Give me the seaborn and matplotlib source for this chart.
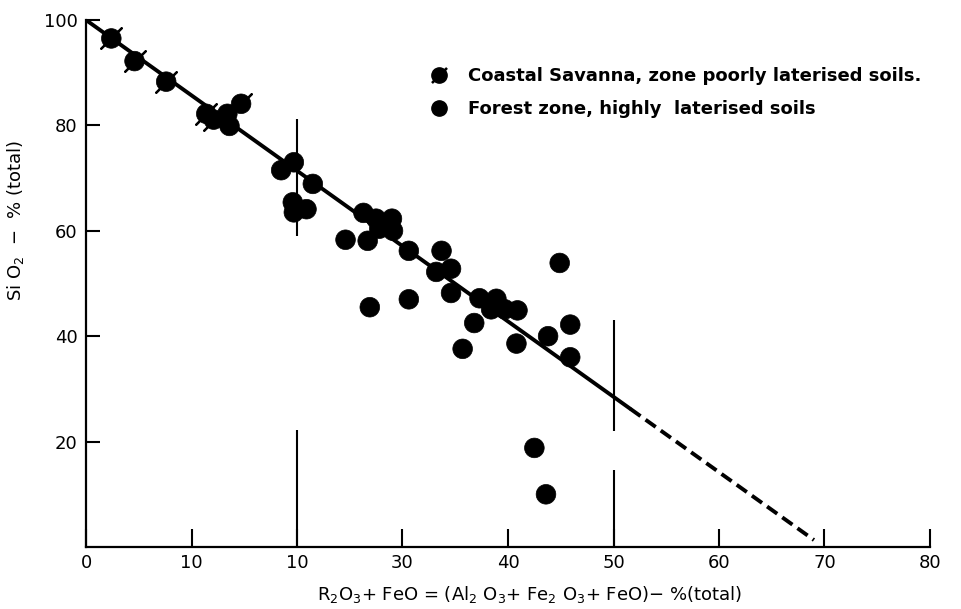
import matplotlib
matplotlib.use("Agg")
import matplotlib.pyplot as plt
import seaborn as sns
import pandas as pd
import numpy as np
from matplotlib.lines import Line2D
from matplotlib.legend_handler import HandlerTuple

# ---------------- data ----------------
coastal_x = [2.4, 4.6, 7.6, 11.4, 12.1, 14.7]
coastal_y = [96.5, 92.2, 88.3, 82.2, 81.1, 84.1]

forest_x = [13.4, 13.6, 18.5, 19.7, 21.5, 19.6, 19.7, 20.9, 26.3, 27.5, 29.0, 29.1,
            27.8, 26.7, 24.6, 30.6, 33.7, 33.2, 34.6, 34.6, 37.3, 38.9, 38.4, 39.7,
            40.9, 36.8, 26.9, 30.6, 44.9, 45.9, 43.8, 40.8, 35.7, 45.9, 42.5, 43.6]
forest_y = [82.2, 79.9, 71.5, 73.0, 68.9, 65.4, 63.5, 64.1, 63.4, 62.3, 62.3, 60.0,
            60.4, 58.1, 58.3, 56.2, 56.2, 52.2, 52.8, 48.2, 47.2, 47.1, 45.1, 45.1,
            44.9, 42.5, 45.5, 47.0, 53.9, 42.2, 40.0, 38.6, 37.6, 36.0, 18.8, 10.0]

series_labels = ["Coastal Savanna, zone poorly laterised soils.",
                 "Forest zone, highly  laterised soils"]

# trend line y = intercept + slope * x
trend_intercept = 100.0
trend_slope = -1.43
trend_solid_x = [0.0, 51.6]
trend_dashed_x = [51.6, 69.0]

# vertical guide segments (x, ymin, ymax)
guide_x = [20, 20, 50, 50]
guide_ymin = [59.1, 0.0, 22.0, 0.0]
guide_ymax = [81.3, 22.2, 43.0, 14.6]

x_ticks = [0, 10, 20, 30, 40, 50, 60, 70, 80]
x_ticklabels = ["0", "10", "10", "30", "40", "50", "60", "70", "80"]
y_ticks = [20, 40, 60, 80, 100]
y_ticklabels = ["20", "40", "60", "80", "100"]

x_label = r"R$_2$O$_3$+ FeO = (Al$_2$ O$_3$+ Fe$_2$ O$_3$+ FeO)$-$ %(total)"
y_label = r"Si O$_2$  $-$  % (total)"

# ---------------- figure ----------------
sns.set_theme(style="ticks")
plt.rcParams["font.family"] = ["DejaVu Sans"]
plt.rcParams["mathtext.default"] = "regular"
plt.rcParams["text.color"] = "black"
plt.rcParams["axes.labelcolor"] = "black"

fig = plt.figure(figsize=(9.62, 6.09), dpi=100)
ax = fig.add_axes([86 / 962, 1 - 547 / 609, (930 - 86) / 962, (547 - 20) / 609])

df = pd.DataFrame({
    "x": coastal_x + forest_x,
    "y": coastal_y + forest_y,
    "zone": [series_labels[0]] * len(coastal_x) + [series_labels[1]] * len(forest_x),
})

# trend line
sx = np.array(trend_solid_x)
dx = np.array(trend_dashed_x)
sns.lineplot(x=sx, y=trend_intercept + trend_slope * sx, color="black", lw=2.8, ax=ax)
ln = sns.lineplot(x=dx, y=trend_intercept + trend_slope * dx, color="black", lw=2.8, ax=ax)
ln.lines[-1].set_dashes((3.2, 1.6))

# vertical guides
ax.vlines(guide_x, guide_ymin, guide_ymax, color="black", lw=1.5)

# points
sns.scatterplot(data=df, x="x", y="y", hue="zone",
                palette={series_labels[0]: "black", series_labels[1]: "black"},
                s=200, edgecolor="black", linewidth=0.5, legend=False, ax=ax, zorder=3)
coastal_df = df[df["zone"] == series_labels[0]]
sns.scatterplot(data=coastal_df, x="x", y="y", marker=(2, 2, -45), s=430,
                color="black", edgecolor="black", linewidth=1.6, legend=False, ax=ax, zorder=4)

ax.set_xlim(0, 80)
ax.set_ylim(0, 100)
ax.set_xticks(x_ticks)
ax.set_xticklabels(x_ticklabels)
ax.set_yticks(y_ticks)
ax.set_yticklabels(y_ticklabels)
ax.tick_params(axis="x", direction="in", length=13, width=1.5, pad=5, labelsize=13,
               colors="black")
ax.tick_params(axis="y", direction="in", length=10, width=1.5, pad=6, labelsize=13,
               colors="black")
sns.despine(ax=ax)
for side in ["left", "bottom"]:
    ax.spines[side].set_linewidth(1.6)
    ax.spines[side].set_color("black")

ax.set_xlabel(x_label, fontsize=13)
ax.set_ylabel(y_label, fontsize=13)
ax.xaxis.set_label_coords((530 - 86) / 844, -37 / 527)
ax.yaxis.set_label_coords((26 - 86) / 844, (547 - 220) / 527)

# legend
h_circle1 = Line2D([], [], marker="o", color="black", ls="", markersize=11)
h_stroke = Line2D([], [], marker=(2, 2, -45), color="black", ls="", markersize=15, mew=1.6)
h_circle2 = Line2D([], [], marker="o", color="black", ls="", markersize=11)
ax.legend([(h_circle1, h_stroke), h_circle2], series_labels,
          handler_map={tuple: HandlerTuple(ndivide=1)},
          loc="upper left", bbox_to_anchor=(430 / 962, 1 - 67 / 609),
          bbox_transform=fig.transFigure, frameon=False,
          prop={"size": 13, "weight": "bold"},
          borderpad=0, borderaxespad=0, handlelength=1.0, handletextpad=1.1,
          labelspacing=0.85)

fig.savefig("out.png", dpi=100)
